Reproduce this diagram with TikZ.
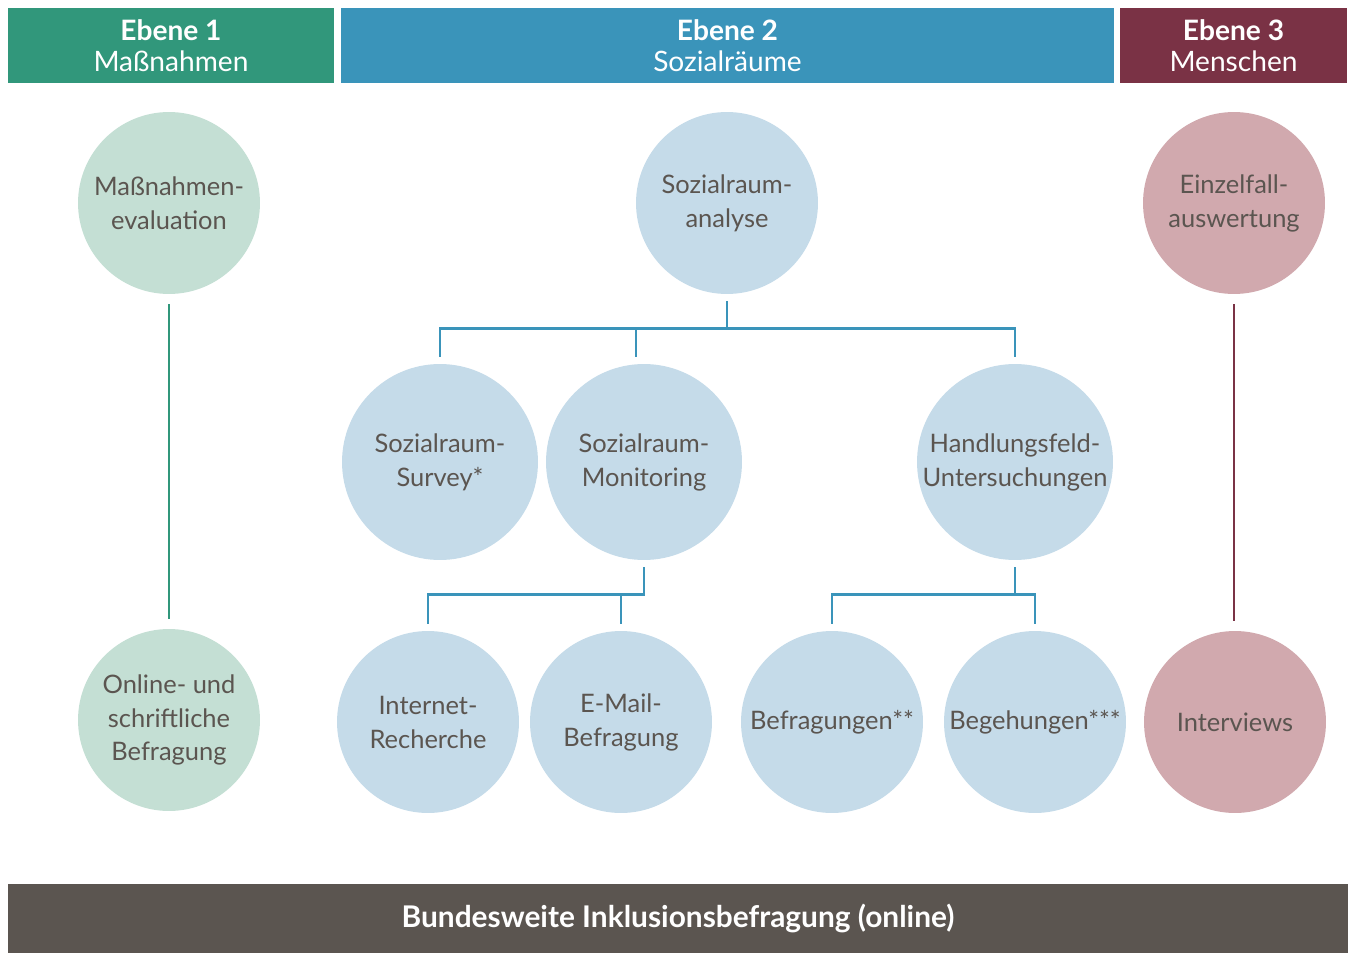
\documentclass[tikz,border=0pt]{standalone}
\usepackage{fontspec}
\setmainfont{Lato}
\usetikzlibrary{positioning}
\definecolor{gruen}{HTML}{31977B}
\definecolor{blau}{HTML}{3A94BA}
\definecolor{rot}{HTML}{7A3245}
\definecolor{grau}{HTML}{5B5550}
\definecolor{gruenhell}{HTML}{C4DFD4}
\definecolor{blauhell}{HTML}{C5DBE9}
\definecolor{rothell}{HTML}{D1A9AE}
\tikzset{
  kopf/.style={text=white, minimum height=1.5cm, inner sep=0pt, align=center,
    font=\fontsize{16}{17.6}\selectfont},
  kreis/.style={circle, text=grau, minimum size=3.64cm, inner sep=0pt, align=center,
    font=\fontsize{14.5}{19.3}\selectfont},
  gross/.style={kreis, minimum size=3.92cm},
  ast/.style={line width=1.6pt, shorten <=0.14cm, shorten >=0.14cm},
}
\begin{document}
\begin{tikzpicture}[x=0.02cm,y=-0.02cm]
\useasboundingbox (0,0) rectangle (1352,953);
% Kopfzeile
\node[kopf, fill=gruen, minimum width=6.52cm] (k1) at (171,45.5) {\textbf{Ebene 1}\\Maßnahmen};
\node[kopf, fill=blau, minimum width=15.46cm] (k2) at (727.5,45.5) {\textbf{Ebene 2}\\Sozialräume};
\node[kopf, fill=rot, minimum width=4.54cm] (k3) at (1233.5,45.5) {\textbf{Ebene 3}\\Menschen};
% Ebene 1
\node[kreis, fill=gruenhell] (eval) at (169,203) {Maßnahmen-\\evaluation};
\node[kreis, fill=gruenhell] (online) at (169,720) {Online- und\\schriftliche\\Befragung};
\draw[ast, draw=gruen, shorten <=0.2cm, shorten >=0.2cm] (eval) -- (online);
% Ebene 2
\node[kreis, fill=blauhell] (analyse) at (727,203) {Sozialraum-\\analyse};
\node[gross, fill=blauhell] (survey) at (440,462) {Sozialraum-\\Survey*};
\node[gross, fill=blauhell] (monitor) at (644,462) {Sozialraum-\\Monitoring};
\node[gross, fill=blauhell] (feld) at (1015,462) {Handlungsfeld-\\Untersuchungen};
\node[kreis, fill=blauhell] (recherche) at (428,722) {Internet-\\Recherche};
\node[kreis, fill=blauhell] (mail) at (621,722) {E-Mail-\\Befragung};
\node[kreis, fill=blauhell] (befr) at (832,722) {Befragungen**};
\node[kreis, fill=blauhell] (begeh) at (1035,722) {Begehungen***};
\draw[ast, draw=blau] (analyse.south) -- ++(0,34) -| (survey.north);
\draw[ast, draw=blau] (analyse.south) -- ++(0,34) -| ([xshift=-0.16cm]monitor.north);
\draw[ast, draw=blau] (analyse.south) -- ++(0,34) -| (feld.north);
\foreach \z in {recherche,mail}
  \draw[ast, draw=blau] (monitor.south) -- ++(0,34) -| (\z.north);
\foreach \z in {befr,begeh}
  \draw[ast, draw=blau] (feld.south) -- ++(0,34) -| (\z.north);
% Ebene 3
\node[kreis, fill=rothell] (einzel) at (1234,203) {Einzelfall-\\auswertung};
\node[kreis, fill=rothell] (interv) at (1235,722) {Interviews};
\draw[ast, draw=rot, shorten <=0.2cm, shorten >=0.2cm] (einzel.south) -- (einzel.south |- interv.north);
% Fusszeile
\node[fill=grau, text=white, minimum width=26.8cm, minimum height=1.38cm, inner sep=0pt,
  font=\bfseries\fontsize{17}{20}\selectfont] (bund) at (678,918.5) {Bundesweite Inklusionsbefragung (online)};
\end{tikzpicture}
\end{document}
